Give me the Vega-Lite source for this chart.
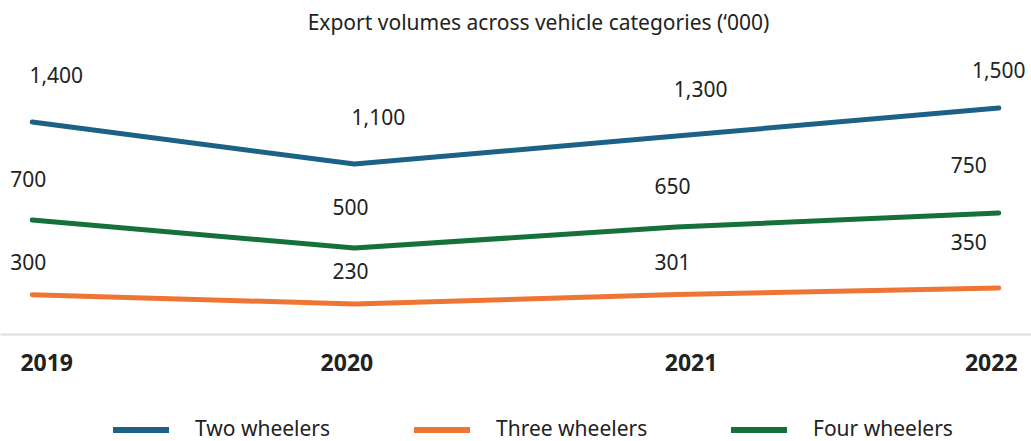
{
  "$schema": "https://vega.github.io/schema/vega-lite/v6.json",
  "width": 1031,
  "height": 284,
  "autosize": {"type": "none"},
  "padding": {"top": 50, "left": 0, "right": 0, "bottom": 107},
  "background": "white",
  "config": {"view": {"stroke": null}, "font": "Noto Sans"},
  "title": {
    "text": "Export volumes across vehicle categories (‘000)",
    "font": "Noto Sans",
    "fontSize": 21,
    "fontWeight": "normal",
    "color": "#222222",
    "anchor": "middle",
    "dx": 23,
    "offset": 16
  },
  "data": {
    "values": [
      {"year": "2019", "series": "Two wheelers", "value": 1400},
      {"year": "2020", "series": "Two wheelers", "value": 1100},
      {"year": "2021", "series": "Two wheelers", "value": 1300},
      {"year": "2022", "series": "Two wheelers", "value": 1500},
      {"year": "2019", "series": "Three wheelers", "value": 300},
      {"year": "2020", "series": "Three wheelers", "value": 230},
      {"year": "2021", "series": "Three wheelers", "value": 301},
      {"year": "2022", "series": "Three wheelers", "value": 350},
      {"year": "2019", "series": "Four wheelers", "value": 700},
      {"year": "2020", "series": "Four wheelers", "value": 500},
      {"year": "2021", "series": "Four wheelers", "value": 650},
      {"year": "2022", "series": "Four wheelers", "value": 750}
    ]
  },
  "encoding": {
    "x": {
      "field": "year",
      "type": "ordinal",
      "title": null,
      "scale": {"type": "point", "padding": 0.1},
      "axis": {
        "labelAngle": 0,
        "domainColor": "#dddddd",
        "domainWidth": 2,
        "ticks": false,
        "tickSize": 0,
        "grid": false,
        "labelFont": "Noto Sans",
        "labelFontSize": 23,
        "labelFontWeight": "bold",
        "labelColor": "#222222",
        "labelBaseline": "middle",
        "labelPadding": 29,
        "labelOffset": {"condition": {"test": "datum.value == '2019' || datum.value == '2021'", "value": 14}, "value": -8}
      }
    }
  },
  "layer": [
    {
      "transform": [{"filter": "datum.series != 'Three wheelers'"}],
      "encoding": {
        "y": {"field": "value", "type": "quantitative", "scale": {"domain": [-114, 1914], "nice": false, "zero": false}, "axis": null}
      },
      "layer": [
        {
          "mark": {"type": "line", "strokeWidth": 5, "strokeCap": "round", "strokeJoin": "round"},
          "encoding": {
            "color": {
              "field": "series",
              "type": "nominal",
              "scale": {"domain": ["Two wheelers", "Three wheelers", "Four wheelers"], "range": ["#1c6186", "#ee7533", "#16703a"]},
              "legend": {
                "orient": "none",
                "legendX": 110,
                "legendY": 349,
                "direction": "horizontal",
                "title": null,
                "symbolType": "stroke",
                "symbolSize": 3136,
                "symbolStrokeWidth": 6,
                "labelFont": "Noto Sans",
                "labelFontSize": 21,
                "labelColor": "#222222",
                "labelOffset": 23,
                "columnPadding": 71,
                "padding": 0
              }
            }
          }
        },
        {
          "transform": [{"filter": "datum.series == 'Two wheelers' && datum.year != '2022'"}],
          "mark": {"type": "text", "dx": 24, "dy": -45, "fontSize": 21, "font": "Noto Sans", "color": "#222222", "baseline": "middle"},
          "encoding": {"text": {"field": "value", "type": "quantitative", "format": ","}}
        },
        {
          "transform": [{"filter": "datum.series == 'Two wheelers' && datum.year == '2022'"}],
          "mark": {"type": "text", "dx": 0, "dy": -36, "fontSize": 21, "font": "Noto Sans", "color": "#222222", "baseline": "middle"},
          "encoding": {"text": {"field": "value", "type": "quantitative", "format": ","}}
        },
        {
          "transform": [{"filter": "datum.series == 'Four wheelers' && datum.year != '2022'"}],
          "mark": {"type": "text", "dx": -4, "dy": -39, "fontSize": 21, "font": "Noto Sans", "color": "#222222", "baseline": "middle"},
          "encoding": {"text": {"field": "value", "type": "quantitative", "format": ","}}
        },
        {
          "transform": [{"filter": "datum.series == 'Four wheelers' && datum.year == '2022'"}],
          "mark": {"type": "text", "dx": -30, "dy": -46, "fontSize": 21, "font": "Noto Sans", "color": "#222222", "baseline": "middle"},
          "encoding": {"text": {"field": "value", "type": "quantitative", "format": ","}}
        }
      ]
    },
    {
      "transform": [{"filter": "datum.series == 'Three wheelers'"}],
      "encoding": {
        "y": {"field": "value", "type": "quantitative", "scale": {"domain": [5, 2136], "nice": false, "zero": false}, "axis": null}
      },
      "layer": [
        {
          "mark": {"type": "line", "strokeWidth": 5, "strokeCap": "round", "strokeJoin": "round"},
          "encoding": {"color": {"field": "series", "type": "nominal"}}
        },
        {
          "transform": [{"filter": "datum.year != '2022'"}],
          "mark": {"type": "text", "dx": -4, "dy": -31, "fontSize": 21, "font": "Noto Sans", "color": "#222222", "baseline": "middle"},
          "encoding": {"text": {"field": "value", "type": "quantitative", "format": ","}}
        },
        {
          "transform": [{"filter": "datum.year == '2022'"}],
          "mark": {"type": "text", "dx": -30, "dy": -44, "fontSize": 21, "font": "Noto Sans", "color": "#222222", "baseline": "middle"},
          "encoding": {"text": {"field": "value", "type": "quantitative", "format": ","}}
        }
      ]
    }
  ],
  "resolve": {"scale": {"y": "independent"}}
}
